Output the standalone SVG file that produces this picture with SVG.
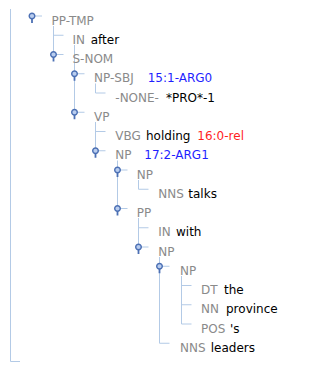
<svg xmlns="http://www.w3.org/2000/svg" width="336" height="367" viewBox="0 0 336 367">
<style>
text{font-family:"DejaVu Sans","Liberation Sans",sans-serif;font-size:12px}
.lb{fill:#8a8a8a}
.w{fill:#000}
.b{fill:#1f1fff}
.r{fill:#ff1f1f}
.ln{stroke:#b3cae6;stroke-width:1;fill:none}
.hs{stroke:#4c70b4;stroke-width:1.8}
.hc{stroke:#4c70b4;stroke-width:1.4;fill:#b9cdef}
</style>
<defs>
<g id="h">
<line class="ln" x1="2" y1="0" x2="10" y2="0"/>
<line class="hs" x1="0" y1="2.5" x2="0" y2="7"/>
<circle class="hc" cx="0" cy="0" r="2.8"/>
</g>
<line id="t" class="ln" x1="0" y1="0" x2="10" y2="0"/>
</defs>
<g id="connectors">
<path class="ln" d="M10.5 9V361.5H20"/>
<path class="ln" d="M53.5 26V54.5"/>
<path class="ln" d="M74.5 45V112.25"/>
<path class="ln" d="M95.5 83.5V93"/>
<path class="ln" d="M95.5 122V150.75"/>
<path class="ln" d="M117.5 160.5V208.5"/>
<path class="ln" d="M138.5 180V189.25"/>
<path class="ln" d="M138.5 218V247"/>
<path class="ln" d="M159.5 257V343.25"/>
<path class="ln" d="M181.5 276V324"/>
<use href="#t" x="53.5" y="35.25"/>
<use href="#t" x="95.5" y="93"/>
<use href="#t" x="95.5" y="131.5"/>
<use href="#t" x="138.5" y="189.25"/>
<use href="#t" x="138.5" y="227.75"/>
<use href="#t" x="181.5" y="285.5"/>
<use href="#t" x="181.5" y="304.75"/>
<use href="#t" x="181.5" y="324"/>
<use href="#t" x="159.5" y="343.25"/>
</g>
<g id="n0"><use href="#h" x="32" y="16"/><text class="lb" x="51.5" y="24.5">PP-TMP</text></g>
<g id="n1"><text class="lb" x="72.5" y="43.75">IN</text><text class="w" x="90.7" y="43.75">after</text></g>
<g id="n2"><use href="#h" x="53.5" y="54.5"/><text class="lb" x="72.5" y="63">S-NOM</text></g>
<g id="n3"><use href="#h" x="74.5" y="73.75"/><text class="lb" x="94" y="82.25">NP-SBJ</text><text class="b" x="147.7" y="82.25">15:1-ARG0</text></g>
<g id="n4"><text class="lb" x="115.3" y="101.5">-NONE-</text><text class="w" x="166" y="101.5">*PRO*-1</text></g>
<g id="n5"><use href="#h" x="74.5" y="112.25"/><text class="lb" x="94" y="120.75">VP</text></g>
<g id="n6"><text class="lb" x="115.3" y="140">VBG</text><text class="w" x="146" y="140">holding</text><text class="r" x="197.3" y="140">16:0-rel</text></g>
<g id="n7"><use href="#h" x="95.5" y="150.75"/><text class="lb" x="115.3" y="159.25">NP</text><text class="b" x="144.3" y="159.25">17:2-ARG1</text></g>
<g id="n8"><use href="#h" x="117.5" y="170"/><text class="lb" x="136.7" y="178.5">NP</text></g>
<g id="n9"><text class="lb" x="158.3" y="197.75">NNS</text><text class="w" x="188.3" y="197.75">talks</text></g>
<g id="n10"><use href="#h" x="117.5" y="208.5"/><text class="lb" x="136.7" y="217">PP</text></g>
<g id="n11"><text class="lb" x="158.3" y="236.25">IN</text><text class="w" x="176" y="236.25">with</text></g>
<g id="n12"><use href="#h" x="138.5" y="247"/><text class="lb" x="158.3" y="255.5">NP</text></g>
<g id="n13"><use href="#h" x="159.5" y="266.25"/><text class="lb" x="180" y="274.75">NP</text></g>
<g id="n14"><text class="lb" x="201" y="294">DT</text><text class="w" x="224" y="294">the</text></g>
<g id="n15"><text class="lb" x="201" y="313.25">NN</text><text class="w" x="226" y="313.25">province</text></g>
<g id="n16"><text class="lb" x="201" y="332.5">POS</text><text class="w" x="230" y="332.5">'s</text></g>
<g id="n17"><text class="lb" x="180" y="351.75">NNS</text><text class="w" x="210.7" y="351.75">leaders</text></g>
</svg>
